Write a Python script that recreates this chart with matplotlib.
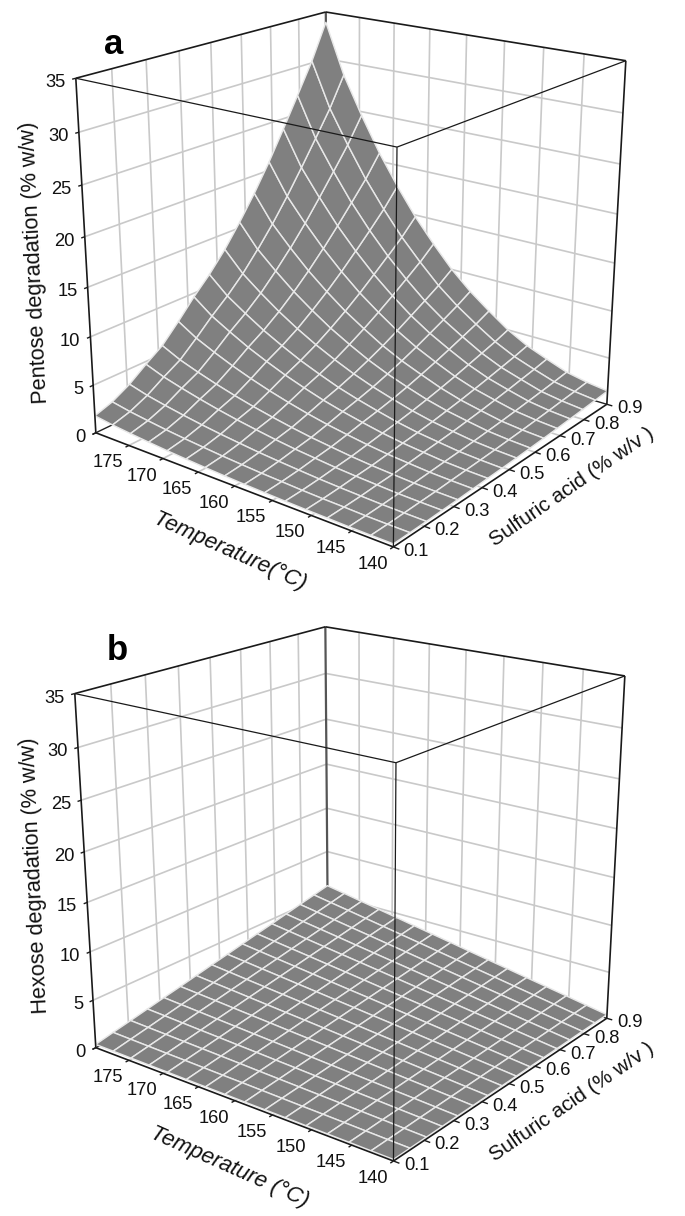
import numpy as np
import matplotlib
matplotlib.use('Agg')
from matplotlib import pyplot as plt
from mpl_toolkits.mplot3d import Axes3D

plt.rcParams['font.family'] = ['Liberation Sans', 'DejaVu Sans']

W, H = 685, 1216

#--data-------------------------------------------------------------------
temp_ticks = [140, 145, 150, 155, 160, 165, 170, 175, 180]
temp_labels = ['140', '145', '150', '155', '160', '165', '170', '175', '']
acid_ticks = [0.1, 0.2, 0.3, 0.4, 0.5, 0.6, 0.7, 0.8, 0.9]
acid_labels = ['0.1', '0.2', '0.3', '0.4', '0.5', '0.6', '0.7', '0.8', '0.9']
degr_ticks = [0, 5, 10, 15, 20, 25, 30, 35]

temp_grid = [140, 142.67, 145.33, 148, 150.67, 153.33, 156, 158.67,
             161.33, 164, 166.67, 169.33, 172, 174.67, 177.33, 180]
acid_grid = [0.1, 0.153, 0.207, 0.26, 0.313, 0.367, 0.42, 0.473,
             0.527, 0.58, 0.633, 0.687, 0.74, 0.793, 0.847, 0.9]

# rows = temperature, columns = acid
pentose = [
    [.29, .31, .34, .39, .43, .50, .57, .63, .70, .79, .88, .98, 1.09, 1.20, 1.32, 1.45],
    [.29, .31, .36, .42, .47, .56, .64, .72, .81, .92, 1.03, 1.16, 1.29, 1.44, 1.58, 1.75],
    [.30, .33, .39, .47, .54, .65, .76, .86, .98, 1.12, 1.26, 1.43, 1.61, 1.79, 1.98, 2.2],
    [.34, .39, .46, .58, .67, .82, .98, 1.12, 1.28, 1.48, 1.68, 1.92, 2.16, 2.43, 2.69, 3.0],
    [.37, .43, .54, .69, .81, 1.0, 1.21, 1.39, 1.61, 1.87, 2.13, 2.44, 2.76, 3.10, 3.45, 3.85],
    [.42, .50, .64, .83, 1.0, 1.26, 1.53, 1.77, 2.06, 2.39, 2.75, 3.15, 3.58, 4.02, 4.47, 5.0],
    [.48, .60, .78, 1.03, 1.25, 1.58, 1.94, 2.26, 2.63, 3.06, 3.54, 4.06, 4.62, 5.2, 5.8, 6.5],
    [.55, .69, .93, 1.23, 1.51, 1.93, 2.39, 2.79, 3.25, 3.79, 4.38, 5.04, 5.75, 6.47, 7.24, 8.1],
    [.64, .82, 1.10, 1.49, 1.84, 2.36, 2.91, 3.40, 3.99, 4.66, 5.39, 6.22, 7.09, 7.98, 8.92, 10],
    [.74, .96, 1.32, 1.80, 2.22, 2.86, 3.55, 4.16, 4.87, 5.71, 6.62, 7.63, 8.69, 9.80, 10.97, 12.3],
    [.86, 1.13, 1.55, 2.13, 2.64, 3.42, 4.25, 4.98, 5.85, 6.85, 7.94, 9.16, 10.46, 11.8, 13.2, 14.8],
    [.99, 1.31, 1.82, 2.51, 3.13, 4.06, 5.06, 5.94, 6.97, 8.18, 9.48, 10.94, 12.49, 14.09, 15.78, 17.7],
    [1.15, 1.52, 2.13, 2.95, 3.68, 4.78, 5.95, 6.99, 8.23, 9.64, 11.19, 12.93, 14.75, 16.66, 18.63, 20.9],
    [1.33, 1.77, 2.48, 3.44, 4.30, 5.60, 6.99, 8.22, 9.66, 11.33, 13.15, 15.19, 17.36, 19.6, 21.93, 24.6],
    [1.53, 2.04, 2.87, 3.98, 4.98, 6.5, 8.1, 9.53, 11.21, 13.16, 15.27, 17.65, 20.16, 22.77, 25.48, 28.6],
    [1.8, 2.4, 3.4, 4.7, 5.9, 7.7, 9.6, 11.3, 13.3, 15.6, 18.1, 20.9, 23.9, 27, 30.2, 33.9],
]

hexose = [
    [.15, .17, .18, .20, .22, .23, .25, .27, .28, .30, .32, .33, .35, .37, .38, .40],
    [.16, .20, .24, .29, .33, .37, .41, .45, .49, .53, .57, .61, .65, .69, .73, .77],
    [.18, .24, .31, .37, .44, .50, .57, .63, .69, .76, .82, .89, .95, 1.02, 1.08, 1.15],
    [.19, .28, .37, .46, .54, .63, .72, .81, .90, .99, 1.08, 1.17, 1.25, 1.34, 1.43, 1.52],
    [.20, .32, .43, .54, .65, .77, .88, .99, 1.10, 1.22, 1.33, 1.44, 1.56, 1.67, 1.78, 1.89],
    [.22, .35, .49, .63, .76, .90, 1.04, 1.17, 1.31, 1.45, 1.58, 1.72, 1.86, 1.99, 2.13, 2.27],
    [.23, .39, .55, .71, .87, 1.03, 1.19, 1.35, 1.52, 1.68, 1.84, 2.0, 2.16, 2.32, 2.48, 2.64],
    [.24, .43, .61, .80, .98, 1.17, 1.35, 1.54, 1.72, 1.91, 2.09, 2.27, 2.46, 2.64, 2.83, 3.01],
    [.26, .47, .67, .88, 1.09, 1.30, 1.51, 1.72, 1.93, 2.14, 2.34, 2.55, 2.76, 2.97, 3.18, 3.39],
    [.27, .50, .74, .97, 1.20, 1.43, 1.67, 1.90, 2.13, 2.36, 2.60, 2.83, 3.06, 3.30, 3.53, 3.76],
    [.28, .54, .80, 1.05, 1.31, 1.57, 1.82, 2.08, 2.34, 2.59, 2.85, 3.11, 3.36, 3.62, 3.88, 4.13],
    [.30, .58, .86, 1.14, 1.42, 1.70, 1.98, 2.26, 2.54, 2.82, 3.10, 3.38, 3.66, 3.95, 4.23, 4.51],
    [.31, .61, .92, 1.22, 1.53, 1.83, 2.14, 2.44, 2.75, 3.05, 3.36, 3.66, 3.97, 4.27, 4.58, 4.88],
    [.32, .65, .98, 1.31, 1.64, 1.97, 2.30, 2.62, 2.95, 3.28, 3.61, 3.94, 4.27, 4.60, 4.93, 5.25],
    [.34, .69, 1.04, 1.40, 1.75, 2.10, 2.45, 2.81, 3.16, 3.51, 3.86, 4.22, 4.57, 4.92, 5.27, 5.63],
    [.35, .73, 1.10, 1.48, 1.86, 2.23, 2.61, 2.99, 3.36, 3.74, 4.12, 4.49, 4.87, 5.25, 5.62, 6.0],
]

#--camera: where the box corners fall in the picture--------------------------
box_points = [(180, .1, 0), (140, .1, 0), (140, .9, 0),
              (180, .1, 35), (140, .1, 35), (140, .9, 35), (180, .9, 35)]
corners_a = [(96, 433), (393, 547), (607, 404),
             (76, 78), (397, 147), (626, 61), (325.5, 12)]
corners_b = [(96, 1048), (393, 1161), (607, 1018),
             (75, 693), (396, 763), (625, 676), (325, 627)]


def fit_camera(corners):
    # least squares 3x4 projection through the box corners, data coords -> pixels
    norm = np.array([[1/40, 0, 0, -140/40],
                     [0, 1/.8, 0, -.1/.8],
                     [0, 0, 1/35, 0],
                     [0, 0, 0, 1]])
    rows = []
    for (t, s, z), (px, py) in zip(box_points, corners):
        u, v, w, _ = norm @ np.array([t, s, z, 1])
        rows.append([u, v, w, 1, 0, 0, 0, 0, -px*u, -px*v, -px*w, -px])
        rows.append([0, 0, 0, 0, u, v, w, 1, -py*u, -py*v, -py*w, -py])
    p = np.linalg.svd(np.array(rows))[2][-1].reshape(3, 4)
    p = p / p[2, 3]
    m = np.vstack([p[0], p[1], [1, 1, -1, 0], p[2]])
    return m @ norm


def to_px(m, t, s, z):
    x, y, _, w = m @ np.array([t, s, z, 1])
    return x / w, y / w


def fig_text(px, py, label, **kw):
    return plt.figtext(px / W, 1 - py / H, label, **kw)


def line(ax, a, b, color='k', lw=1.0, zorder=3):
    ax.plot([a[0], b[0]], [a[1], b[1]], [a[2], b[2]], color=color, lw=lw,
            zorder=zorder, solid_capstyle='butt')


def plot_panel(fig, top, corners, surface, letter, letter_xy, ylabel, ylabel_xy,
               xlabel, xlabel_xy, zlabel, zlabel_xy):
    ax = fig.add_axes([0, 1 - (top + W) / H, 1, W / H], projection='3d')
    ax.set_axis_off()
    ax.patch.set_visible(False)
    ax.computed_zorder = False
    # ortho only so that mplot3d does not clip lines, the camera below has the perspective
    ax.set_proj_type('ortho')

    m = fit_camera(corners)
    ax.get_proj = lambda: m
    ax.viewLim.intervalx = (0, W)
    ax.viewLim.intervaly = (top + W, top)

    grid = '#c9c9c9'
    #back walls and floor
    for s in acid_ticks[1:-1]:
        line(ax, (180, s, 0), (180, s, 35), grid, 1.2, 1)
        line(ax, (180, s, 0), (140, s, 0), grid, 1.2, 1)
    for t in temp_ticks[1:-1]:
        line(ax, (t, .9, 0), (t, .9, 35), grid, 1.2, 1)
        line(ax, (t, .1, 0), (t, .9, 0), grid, 1.2, 1)
    for z in degr_ticks[1:-1]:
        line(ax, (180, .1, z), (180, .9, z), grid, 1.2, 1)
        line(ax, (180, .9, z), (140, .9, z), grid, 1.2, 1)
    line(ax, (180, .1, 0), (180, .9, 0), '#222222', 1.0, 1)
    line(ax, (180, .9, 0), (140, .9, 0), '#222222', 1.0, 1)
    line(ax, (180, .9, 0), (180, .9, 35), '#555555', 1.6, 1)

    tt, ss = np.meshgrid(temp_grid, acid_grid, indexing='ij')
    ax.plot_surface(tt, ss, np.array(surface), rstride=1, cstride=1, color='#808080',
                    edgecolor='#e8e8e8', linewidth=1.05, shade=False, zorder=2)

    #box edges
    for a, b, lw in [((180, .1, 35), (180, .9, 35), 1.2), ((180, .9, 35), (140, .9, 35), 1.2),
                     ((180, .1, 35), (180, .1, 0), 1.2), ((140, .9, 35), (140, .9, 0), 1.2),
                     ((180, .1, 35), (140, .1, 35), 0.9), ((140, .1, 35), (140, .9, 35), 0.9),
                     ((140, .1, 35), (140, .1, 0), 0.9),
                     ((180, .1, 0), (140, .1, 0), 1.2), ((140, .1, 0), (140, .9, 0), 1.2)]:
        line(ax, a, b, '#1a1a1a', lw)

    #ticks and tick labels
    for t, lab in zip(temp_ticks, temp_labels):
        line(ax, (t, .1, 0), (t, .09, 0), '#1a1a1a', 1.0)
        x, y = to_px(m, t, .1, 0)
        fig_text(x - 21, y + 17.5, lab, ha='center', va='center', fontsize=13.2, color='#111111')
    for s, lab in zip(acid_ticks, acid_labels):
        line(ax, (140, s, 0), (139.3, s, 0), '#1a1a1a', 1.0)
        x, y = to_px(m, 140, s, 0)
        fig_text(x + 23, y + 4.5, lab, ha='center', va='center', fontsize=13.2, color='#111111')
    for z in degr_ticks:
        line(ax, (180, .1, z), (180, .09, z), '#1a1a1a', 1.0)
        x, y = to_px(m, 180, .1, z)
        fig_text(x - 10, y + 4.5, str(z), ha='right', va='center', fontsize=13.2, color='#111111')

    fig_text(*letter_xy, letter, ha='center', va='center', fontsize=25, fontweight='bold')
    fig_text(*ylabel_xy, ylabel, ha='center', va='center', fontsize=15.6, rotation=92.7,
             rotation_mode='anchor', color='#111111')
    fig_text(*xlabel_xy, xlabel, ha='center', va='center', fontsize=16, rotation=-24,
             rotation_mode='anchor', style='italic', color='#111111')
    fig_text(*zlabel_xy, zlabel, ha='center', va='center', fontsize=15, rotation=34.5,
             rotation_mode='anchor', color='#111111')


if __name__ == "__main__":
    fig = plt.figure(figsize=(W / 100, H / 100), dpi=100)

    plot_panel(fig, 0, corners_a, pentose, 'a', (114, 45),
               'Pentose degradation (% w/w)', (35, 263),
               'Temperature(°C)', (230, 552),
               'Sulfuric acid (% w/v )', (572, 487))
    plot_panel(fig, H - W, corners_b, hexose, 'b', (117, 651),
               'Hexose degradation (% w/w)', (35, 875),
               'Temperature (°C)', (229, 1167),
               'Sulfuric acid (% w/v )', (572, 1102))

    fig.savefig('out.png', dpi=100)
